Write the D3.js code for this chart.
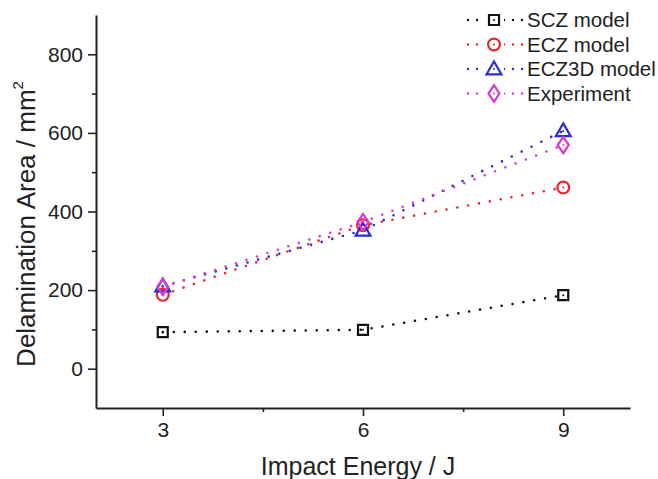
<!DOCTYPE html>
<html lang="en">
<head>
<meta charset="utf-8">
<title>Delamination area vs impact energy</title>
<script src="https://d3js.org/d3.v7.min.js"></script>
<style>
  body { margin: 0; background: #fff; }
  text { font-family: Arial, "Liberation Sans", sans-serif; fill: #222; }
  .axis text { font-size: 21px; }
</style>
</head>
<body>
<svg id="chart" width="658" height="479"></svg>
<script>
// data
var energies = [3, 6, 9];
var sczValues = [93, 99, 187];
var eczValues = [188, 365, 461];
var ecz3dValues = [210, 352, 605];
var expValues = [208, 373, 569];
var seriesNames = ["SCZ model", "ECZ model", "ECZ3D model", "Experiment"];
var xTicks = [3, 6, 9];
var xMinorTicks = [4.5, 7.5];
var yTicks = [0, 200, 400, 600, 800];
var yMinorTicks = [100, 300, 500, 700];

var series = [
  {name: seriesNames[0], values: sczValues, color: "#111111", symbol: "square"},
  {name: seriesNames[1], values: eczValues, color: "#e8262e", symbol: "circle"},
  {name: seriesNames[2], values: ecz3dValues, color: "#2b2bd0", symbol: "triangle"},
  {name: seriesNames[3], values: expValues, color: "#d63ad6", symbol: "diamond"}
];

var svg = d3.select("#chart");
var plotLeft = 96, plotRight = 630, plotTop = 15, plotBottom = 408;

var x = d3.scaleLinear().domain([2, 10]).range([plotLeft, plotRight]);
var y = d3.scaleLinear().domain([-100, 900]).range([plotBottom, plotTop]);

// axes
var xAxis = svg.append("g").attr("class", "axis").attr("transform", "translate(0," + plotBottom + ")")
  .call(d3.axisBottom(x).tickValues(xTicks).tickFormat(d3.format("d")).tickSize(8).tickSizeOuter(0));
svg.append("g").attr("transform", "translate(0," + plotBottom + ")")
  .call(d3.axisBottom(x).tickValues(xMinorTicks).tickFormat("").tickSize(4).tickSizeOuter(0))
  .select(".domain").remove();

var yAxis = svg.append("g").attr("class", "axis").attr("transform", "translate(" + plotLeft + ",0)")
  .call(d3.axisLeft(y).tickValues(yTicks).tickFormat(d3.format("d")).tickSize(8).tickSizeOuter(0));
svg.append("g").attr("transform", "translate(" + plotLeft + ",0)")
  .call(d3.axisLeft(y).tickValues(yMinorTicks).tickFormat("").tickSize(4).tickSizeOuter(0))
  .select(".domain").remove();

svg.selectAll(".domain").attr("stroke", "#222").attr("stroke-width", 2);
svg.selectAll(".tick line").attr("stroke", "#222").attr("stroke-width", 1.6);
xAxis.selectAll("text").attr("dy", "0.85em");
yAxis.selectAll("text").attr("dx", "-2px");

// axis titles
svg.append("text")
  .attr("x", 358).attr("y", 475)
  .attr("text-anchor", "middle")
  .style("font-size", "25px")
  .text("Impact Energy / J");

var yTitle = svg.append("text")
  .attr("transform", "translate(35,224) rotate(-90)")
  .attr("text-anchor", "middle")
  .style("font-size", "26px");
yTitle.append("tspan").text("Delamination Area / mm");
yTitle.append("tspan").style("font-size", "15px").attr("dy", "-0.8em").text("2");

// markers
var symbolMap = {
  square: d3.symbolSquare,
  circle: d3.symbolCircle,
  triangle: d3.symbolTriangle,
  diamond: d3.symbolDiamond
};
var symbolSize = {square: 100, circle: 110, triangle: 95, diamond: 95};

function drawMarker(g, s) {
  var gen = d3.symbol().type(symbolMap[s.symbol]).size(symbolSize[s.symbol]);
  var m = g.append("path")
    .attr("d", gen())
    .attr("fill", "none")
    .attr("stroke", s.color)
    .attr("stroke-width", 2.2);
  if (s.symbol === "diamond") m.attr("transform", "scale(1.05,0.9)");
  if (s.symbol === "triangle") m.attr("transform", "translate(0,1)");
  g.append("circle").attr("r", 1).attr("fill", s.color);
}

var line = d3.line()
  .x(function(d, i) { return x(energies[i]); })
  .y(function(d) { return y(d); });

series.forEach(function(s) {
  svg.append("path")
    .datum(s.values)
    .attr("d", line)
    .attr("fill", "none")
    .attr("stroke", s.color)
    .attr("stroke-width", 2.6)
    .attr("stroke-linecap", "round")
    .attr("stroke-dasharray", "0 11");
});

series.forEach(function(s) {
  s.values.forEach(function(v, i) {
    var g = svg.append("g").attr("transform", "translate(" + x(energies[i]) + "," + y(v) + ")");
    drawMarker(g, s);
  });
});

// legend
var legend = svg.append("g").attr("transform", "translate(468,20)");
series.forEach(function(s, i) {
  var row = legend.append("g").attr("transform", "translate(0," + (i * 24.5) + ")");
  row.append("line")
    .attr("x1", 0).attr("x2", 56).attr("y1", 0).attr("y2", 0)
    .attr("stroke", s.color)
    .attr("stroke-width", 2.4)
    .attr("stroke-linecap", "round")
    .attr("stroke-dasharray", "0 9");
  row.append("rect").attr("x", 16).attr("y", -8).attr("width", 20).attr("height", 16).attr("fill", "#fff");
  var mg = row.append("g").attr("transform", "translate(26,0)");
  drawMarker(mg, s);
  row.append("text")
    .attr("x", 59).attr("y", 0)
    .attr("dy", "0.36em")
    .style("font-size", "20.5px")
    .text(s.name);
});
</script>
</body>
</html>
